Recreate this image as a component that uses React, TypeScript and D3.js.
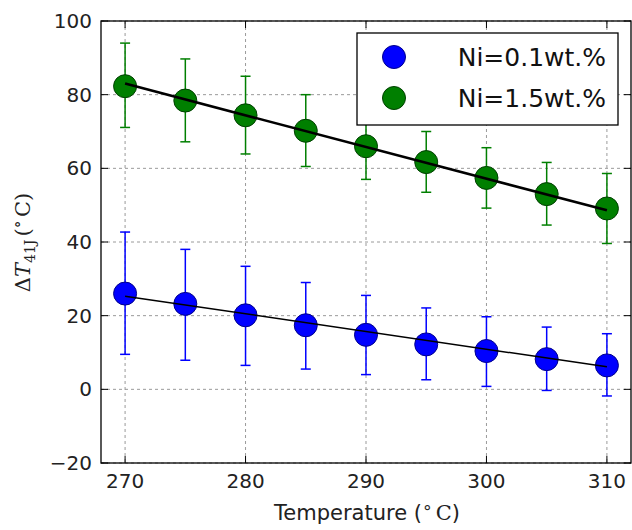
import React from "react";
import * as d3 from "d3";

const temps = [270, 275, 280, 285, 290, 295, 300, 305, 310];
const lowNi = [26.0, 23.2, 20.1, 17.4, 14.8, 12.2, 10.4, 8.2, 6.5];
const lowNiTop = [42.7, 38.0, 33.4, 29.0, 25.5, 22.1, 19.7, 16.9, 15.1];
const lowNiBot = [9.5, 7.9, 6.5, 5.5, 4.0, 2.6, 0.8, -0.3, -1.8];
const highNi = [82.3, 78.4, 74.4, 70.2, 66.0, 61.7, 57.4, 53.0, 49.1];
const highNiTop = [94.0, 89.7, 85.0, 80.0, 75.6, 70.0, 65.6, 61.6, 58.6];
const highNiBot = [71.1, 67.2, 63.9, 60.5, 57.0, 53.5, 49.2, 44.6, 39.6];
const lowFit = [25.3, 6.1];
const highFit = [83.0, 48.6];
const fitX = [270, 310];
const xTicks = [270, 280, 290, 300, 310];
const yTicks = [-20, 0, 20, 40, 60, 80, 100];
const legendLabels = ["Ni=0.1wt.%", "Ni=1.5wt.%"];

const W = 632, H = 530;
const L = 101, R = 631, T = 21, B = 463;
const font = "DejaVu Sans, sans-serif";

export default function App() {
  const x = d3.scaleLinear().domain([268, 312]).range([L, R]);
  const y = d3.scaleLinear().domain([-20, 100]).range([B, T]);
  const line = d3.line<[number, number]>().x(d => x(d[0])).y(d => y(d[1]));

  const series = [
    { v: lowNi, top: lowNiTop, bot: lowNiBot, fit: lowFit, color: "#0000ff", edge: "#00008a", fitW: 1.5 },
    { v: highNi, top: highNiTop, bot: highNiBot, fit: highFit, color: "#007f00", edge: "#003f00", fitW: 2.6 },
  ];

  return (
    <svg width={W} height={H} style={{ position: "absolute", left: 0, top: 0, background: "#fff" }}>
      <rect x={0} y={0} width={W} height={H} fill="#fff" />
      {xTicks.map(t => (
        <line key={"gx" + t} x1={x(t)} x2={x(t)} y1={T} y2={B} stroke="#9a9a9a" strokeWidth={1} strokeDasharray="3,3" />
      ))}
      {yTicks.map(t => (
        <line key={"gy" + t} x1={L} x2={R} y1={y(t)} y2={y(t)} stroke="#9a9a9a" strokeWidth={1} strokeDasharray="3,3" />
      ))}
      {series.map((s, si) => (
        <g key={"s" + si}>
          {temps.map((t, i) => (
            <g key={i} stroke={s.color} strokeWidth={1.5}>
              <line x1={x(t)} x2={x(t)} y1={y(s.top[i])} y2={y(s.bot[i])} />
              <line x1={x(t) - 5} x2={x(t) + 5} y1={y(s.top[i])} y2={y(s.top[i])} />
              <line x1={x(t) - 5} x2={x(t) + 5} y1={y(s.bot[i])} y2={y(s.bot[i])} />
            </g>
          ))}
          {temps.map((t, i) => (
            <circle key={"c" + i} cx={x(t)} cy={y(s.v[i])} r={11.5} fill={s.color} stroke={s.edge} strokeWidth={1} />
          ))}
          <path d={line(fitX.map((t, i) => [t, s.fit[i]] as [number, number])) || ""} fill="none" stroke="#000" strokeWidth={s.fitW} />
        </g>
      ))}
      <rect x={L} y={T} width={R - L} height={B - T} fill="none" stroke="#000" strokeWidth={1.3} />
      {xTicks.map(t => (
        <g key={"tx" + t}>
          <line x1={x(t)} x2={x(t)} y1={B} y2={B - 7} stroke="#000" />
          <line x1={x(t)} x2={x(t)} y1={T} y2={T + 7} stroke="#000" />
          <text x={x(t)} y={B + 25} textAnchor="middle" fontFamily={font} fontSize={20} fill="#222">{t}</text>
        </g>
      ))}
      {yTicks.map(t => (
        <g key={"ty" + t}>
          <line x1={L} x2={L + 7} y1={y(t)} y2={y(t)} stroke="#000" />
          <line x1={R} x2={R - 7} y1={y(t)} y2={y(t)} stroke="#000" />
          <text x={L - 9} y={y(t) + 7} textAnchor="end" fontFamily={font} fontSize={20} fill="#222">{t < 0 ? "\u2212" + Math.abs(t) : t}</text>
        </g>
      ))}
      <text x={367} y={520} textAnchor="middle" fontFamily={font} fontSize={21} fill="#222">
        Temperature (<tspan fontSize={17} dy={-7}>{"\u2218"}</tspan><tspan dy={7} dx={3} fontFamily="DejaVu Serif, serif">C</tspan>)
      </text>
      <text transform={`translate(30,${(187 + 298) / 2}) rotate(-90)`} textAnchor="middle" fontFamily="DejaVu Serif, serif" fontSize={21} fill="#222">
        Δ<tspan fontStyle="italic">T</tspan><tspan fontSize={14} dy={5}>41J</tspan><tspan dy={-5} dx={3}>(</tspan><tspan fontSize={17} dy={-7}>{"\u2218"}</tspan><tspan dy={7} dx={3}>C)</tspan>
      </text>
      <rect x={357} y={33} width={261} height={92} fill="#fff" stroke="#000" strokeWidth={1.3} />
      {series.map((s, i) => (
        <g key={"lg" + i}>
          <circle cx={394} cy={57 + i * 41} r={11.5} fill={s.color} stroke={s.edge} strokeWidth={1} />
          <text x={606} y={66 + i * 41} textAnchor="end" fontFamily={font} fontSize={25} fill="#111">{legendLabels[i]}</text>
        </g>
      ))}
    </svg>
  );
}
